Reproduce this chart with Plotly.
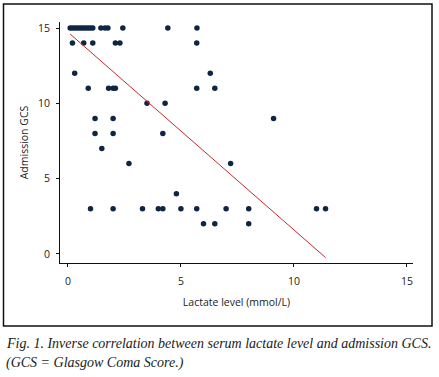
import plotly.graph_objects as go

# Data
lactate = [0.1, 0.2, 0.3, 0.4, 0.5, 0.6, 0.7, 0.8, 0.9, 1.0, 1.1, 1.46, 1.64, 1.77, 2.43, 4.42, 5.71,
           0.2, 0.7, 1.1, 2.1, 2.3, 5.7,
           0.3, 6.3,
           0.9, 1.8, 2.0, 2.1, 5.7, 6.5,
           3.5, 4.3,
           1.2, 2.0, 9.1,
           1.2, 2.0, 4.2,
           1.5,
           2.7, 7.2,
           4.8,
           1.0, 2.0, 3.3, 4.0, 4.2, 5.0, 5.7, 7.0, 8.0, 11.0, 11.4,
           6.0, 6.5, 8.0]
gcs = [15] * 17 + [14] * 6 + [12] * 2 + [11] * 6 + [10] * 2 + [9] * 3 + [8] * 3 + [7] + \
      [6] * 2 + [4] + [3] * 11 + [2] * 3

fit_intercept = 14.73
fit_slope = -1.313

tick_vals = [0, 5, 10, 15]
tick_text = ["0", "5", "10", "15"]

x_title = "Lactate level (mmol/L)"
y_title = "Admission GCS"
caption1 = "Fig. 1. Inverse correlation between serum lactate level and admission GCS."
caption2 = "(GCS = Glasgow Coma Score.)"

fit_x = [min(lactate), max(lactate)]
fit_y = [fit_intercept + fit_slope * v for v in fit_x]

fig = go.Figure()
fig.add_trace(go.Scatter(x=lactate, y=gcs, mode="markers",
                         marker=dict(size=5.5, color="#0f2544"),
                         showlegend=False, hoverinfo="x+y"))
fig.add_trace(go.Scatter(x=fit_x, y=fit_y, mode="lines",
                         line=dict(color="#c8282e", width=1),
                         showlegend=False))

W, H = 439, 377
L, R, T, B = 60, 413, 22, 263
pw, ph = R - L, B - T

def px(x):
    return (x - L) / pw

def py(y):
    return (B - y) / ph

sans = "Open Sans, Noto Sans, sans-serif"
fig.update_layout(
    width=W, height=H,
    margin=dict(l=L, r=W - R, t=T, b=H - B, pad=0),
    paper_bgcolor="white", plot_bgcolor="white",
    font=dict(family=sans, size=10.5, color="#222"),
    xaxis=dict(range=[-0.35, 15.27], tickvals=tick_vals, ticktext=tick_text,
               showgrid=False, zeroline=False, showline=True, linecolor="#111",
               linewidth=1, ticks="outside", ticklen=3, tickcolor="#111",
               ticklabelstandoff=5,
               title=dict(text=x_title, standoff=12, font=dict(size=10.5))),
    yaxis=dict(range=[-0.6, 15.4], tickvals=tick_vals, ticktext=tick_text,
               showgrid=False, zeroline=False, showline=True, linecolor="#111",
               linewidth=1, ticks="outside", ticklen=3, tickcolor="#111",
               ticklabelstandoff=4,
               title=dict(text=y_title, standoff=7, font=dict(size=10.5))),
    shapes=[dict(type="rect", xref="paper", yref="paper",
                 x0=px(3.5), x1=px(432), y0=py(326), y1=py(4),
                 line=dict(color="#111", width=1.5))],
    annotations=[
        dict(text="<i>" + caption1 + "</i>", xref="paper", yref="paper",
             x=px(4), y=py(343), xanchor="left", yanchor="middle", showarrow=False,
             font=dict(family="Liberation Serif, serif", size=14, color="#1a1a1a")),
        dict(text="<i>" + caption2 + "</i>", xref="paper", yref="paper",
             x=px(4), y=py(363), xanchor="left", yanchor="middle", showarrow=False,
             font=dict(family="Liberation Serif, serif", size=14, color="#1a1a1a")),
    ],
)

fig.write_html("out.html", config={"displayModeBar": False},
               post_script="document.body.style.margin='0';document.body.style.overflow='hidden';")
